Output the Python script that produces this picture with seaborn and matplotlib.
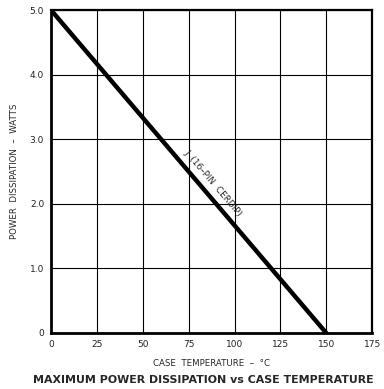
import pandas as pd
import seaborn as sns
import matplotlib.pyplot as plt

# Derating curve data
case_temp = [0, 150]
power_watts = [5.0, 0.0]
x_ticks = [0, 25, 50, 75, 100, 125, 150, 175]
y_ticks = [0, 1.0, 2.0, 3.0, 4.0, 5.0]
y_tick_labels = ['0', '1.0', '2.0', '3.0', '4.0', '5.0']

df = pd.DataFrame({'temp': case_temp, 'power': power_watts})

sns.set_theme(style='white')
plt.rcParams['font.family'] = ['DejaVu Sans']

fig = plt.figure(figsize=(3.84, 3.89), dpi=100)
ax = fig.add_axes([0.133, 0.144, 0.836, 0.830])

sns.lineplot(data=df, x='temp', y='power', color='black', linewidth=3.2, ax=ax)

ax.set_xlim(0, 175)
ax.set_ylim(0, 5.0)
ax.set_xticks(x_ticks)
ax.set_yticks(y_ticks)
ax.set_yticklabels(y_tick_labels)
ax.grid(True, color='black', linewidth=0.8)
ax.tick_params(axis='both', labelsize=6.5, colors='#222222', length=0, pad=5)

for side in ['left', 'bottom']:
    ax.spines[side].set_linewidth(2.0)
for side in ['top', 'right']:
    ax.spines[side].set_linewidth(1.6)
for side in ax.spines:
    ax.spines[side].set_color('black')

ax.set_xlabel('CASE  TEMPERATURE  –  °C', fontsize=6.2, labelpad=7)
ax.set_ylabel('POWER  DISSIPATION  –  WATTS', fontsize=6.2, labelpad=8)

# curve label along the line
ax.text(88.5, 2.32, 'J  (16–PIN  CERDIP)', fontsize=6.4, rotation=-49.7,
        rotation_mode='anchor', ha='center', va='center')

fig.text(0.53, 1 - 380 / 389, 'MAXIMUM POWER DISSIPATION vs CASE TEMPERATURE',
         fontsize=7.9, fontweight='bold', ha='center', va='center')

fig.savefig('out.png', dpi=100)
